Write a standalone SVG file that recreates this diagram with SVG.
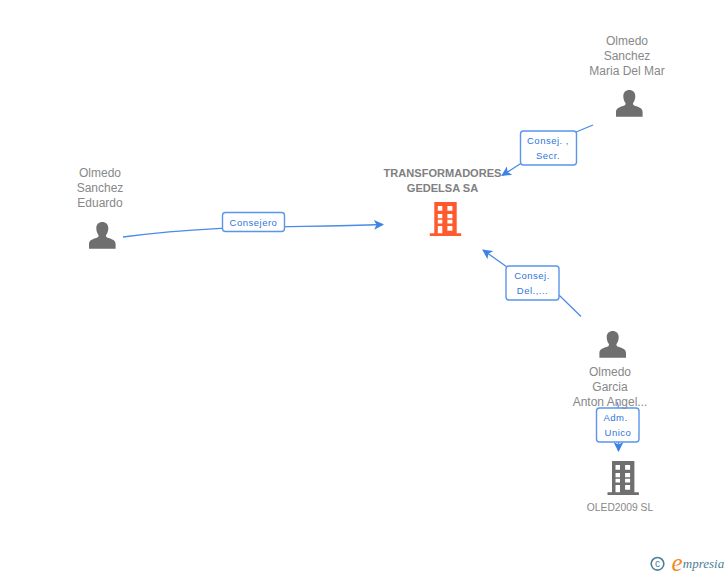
<svg xmlns="http://www.w3.org/2000/svg" width="728" height="575" viewBox="0 0 728 575">
<style>
text{font-family:"Liberation Sans",Arial,sans-serif;text-anchor:middle}
.n{font-size:12px;fill:#888}
.b{font-size:11.05px;font-weight:bold;fill:#808080}
.s{font-size:10.3px;fill:#888}
.l{font-size:9.5px;fill:#2f74de;letter-spacing:.5px}
.c{fill:none;stroke:#4a8ae8;stroke-width:1.3}
.r{fill:#fff;stroke:#5a95ea;stroke-width:1.4}
.p{fill:#6f6f6f}
.t{fill:#4a7f95}
</style>
<defs>
<marker id="a" markerWidth="11" markerHeight="10" refX="9" refY="5" orient="auto" markerUnits="userSpaceOnUse"><path d="M0 0L10 5L0 10L2.500 5Z" fill="#3f82e6"/></marker>
<g id="person"><path d="M-13.300 13.300V8.500C-13.300 5 -10 3.800 -5.500 2.300C-3.800 1.600 -3.500 0.500 -3.800 -0.500C-5.300 -2 -6 -4.800 -6 -7.300C-6 -11 -3.400 -13.300 0 -13.300C3.400 -13.300 6 -11 6 -7.300C6 -4.800 5.300 -2 3.800 -0.500C3.500 0.500 3.800 1.600 5.500 2.300C10 3.800 13.300 5 13.300 8.500V13.300Z"/></g>
<g id="bld"><path fill-rule="evenodd" d="M-11.200 -17H11.200V14.300H15.700V17H-15.700V14.300H-11.200ZM-7.700 -13V-8.300H-3.200V-13ZM1.900 -13V-8.300H6.900V-13ZM-7.700 -5V-0.700H-3.200V-5ZM1.900 -5V-0.700H6.900V-5ZM-7.700 0.700V4.500H-3.200V0.700ZM1.900 0.700V4.500H6.900V0.700ZM-7.700 7V14.300H-3.200V7ZM1.900 7V11.700H6.900V7Z"/></g>
</defs>
<g id="connectors">
<path class="c" d="M123 237C220 224 290 228 383 224.500" marker-end="url(#a)"/>
<path class="c" d="M593 125L576 132L520 164L502 175.500" marker-end="url(#a)"/>
<path class="c" d="M581 316.500L560 296L507 267L483 250" marker-end="url(#a)"/>
<path class="c" d="M617 402Q618.500 405 618.500 410V451" marker-end="url(#a)"/>
</g>
<g id="edge-consejero"><rect class="r" x="222.500" y="212.500" width="62" height="19" rx="3"/><text class="l" x="253.500" y="226">Consejero</text></g>
<g id="edge-secr"><rect class="r" x="520.500" y="131" width="56" height="34" rx="3"/><text class="l" x="548" y="144">Consej. ,</text><text class="l" x="548" y="159">Secr.</text></g>
<g id="edge-del"><rect class="r" x="506" y="266" width="53" height="34" rx="3"/><text class="l" x="532" y="279">Consej.</text><text class="l" x="532.500" y="294">Del.,...</text></g>
<g id="edge-adm"><rect class="r" x="596.500" y="408" width="42.500" height="34" rx="3"/><text class="l" x="615.500" y="421">Adm.</text><text class="l" x="618" y="436">Unico</text></g>
<g id="node-maria"><text class="n" x="627" y="45">Olmedo</text><text class="n" x="627" y="60">Sanchez</text><text class="n" x="627" y="75">Maria Del Mar</text><use href="#person" class="p" x="629.300" y="103.400"/></g>
<g id="node-eduardo"><text class="n" x="100" y="177">Olmedo</text><text class="n" x="100" y="192">Sanchez</text><text class="n" x="100" y="207">Eduardo</text><use href="#person" class="p" x="102.300" y="235.400"/></g>
<g id="node-anton"><use href="#person" class="p" x="612.700" y="344.400"/><text class="n" x="610" y="376">Olmedo</text><text class="n" x="610" y="391">Garcia</text><text class="n" x="610" y="406">Anton Angel...</text></g>
<g id="node-main"><text class="b" x="442.500" y="177">TRANSFORMADORES</text><text class="b" x="442.500" y="192">GEDELSA SA</text><use href="#bld" fill="#ff5a2e" x="445.500" y="219"/></g>
<g id="node-oled"><use href="#bld" class="p" x="623.200" y="478"/><text class="s" x="620" y="511">OLED2009 SL</text></g>
<g id="logo"><circle cx="657.500" cy="563.800" r="6.300" fill="none" stroke="#4a7f95" stroke-width="1.600"/><text class="t" x="657.500" y="567.300" font-size="10">c</text><text x="677" y="571" font-size="25" font-style="italic" fill="#f08a1d" style="font-family:'Liberation Serif',serif">e</text><text class="t" x="703.500" y="568" font-size="13" font-style="italic" style="font-family:'Liberation Serif',serif">mpresia</text></g>
</svg>
